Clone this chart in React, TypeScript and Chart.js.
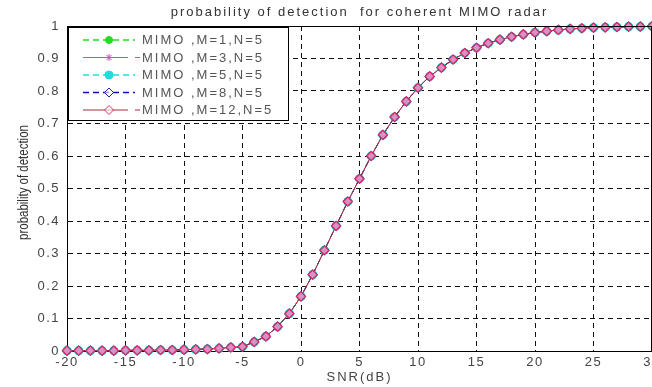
import React, { useEffect, useRef } from "react";
import { Chart, registerables } from "chart.js";

Chart.register(...registerables);

// ---------- data ----------
const snrDb = [
  -20, -19, -18, -17, -16, -15, -14, -13, -12, -11, -10, -9, -8, -7, -6, -5, -4, -3, -2, -1,
  0, 1, 2, 3, 4, 5, 6, 7, 8, 9, 10, 11, 12, 13, 14, 15, 16, 17, 18, 19, 20,
  21, 22, 23, 24, 25, 26, 27, 28, 29, 30,
];

const pdM1 = [
  0.001, 0.001, 0.001, 0.001, 0.001, 0.002, 0.002, 0.002, 0.003, 0.003, 0.004, 0.005, 0.006, 0.008, 0.011, 0.013, 0.028, 0.045, 0.075, 0.115,
  0.168, 0.235, 0.31, 0.385, 0.46, 0.53, 0.6, 0.665, 0.72, 0.768, 0.81, 0.845, 0.872, 0.897, 0.917, 0.933, 0.947, 0.958, 0.967, 0.974, 0.98,
  0.984, 0.988, 0.991, 0.993, 0.995, 0.996, 0.997, 0.998, 0.998, 0.999,
];
const pdM3 = [
  0.001, 0.001, 0.001, 0.001, 0.001, 0.002, 0.002, 0.002, 0.003, 0.003, 0.004, 0.005, 0.006, 0.008, 0.011, 0.013, 0.028, 0.045, 0.075, 0.115,
  0.168, 0.235, 0.31, 0.385, 0.46, 0.53, 0.6, 0.665, 0.72, 0.768, 0.81, 0.845, 0.872, 0.897, 0.917, 0.933, 0.947, 0.958, 0.967, 0.974, 0.98,
  0.984, 0.988, 0.991, 0.993, 0.995, 0.996, 0.997, 0.998, 0.998, 0.999,
];
const pdM5 = [
  0.001, 0.001, 0.001, 0.001, 0.001, 0.002, 0.002, 0.002, 0.003, 0.003, 0.004, 0.005, 0.006, 0.008, 0.011, 0.013, 0.028, 0.045, 0.075, 0.115,
  0.168, 0.235, 0.31, 0.385, 0.46, 0.53, 0.6, 0.665, 0.72, 0.768, 0.81, 0.845, 0.872, 0.897, 0.917, 0.933, 0.947, 0.958, 0.967, 0.974, 0.98,
  0.984, 0.988, 0.991, 0.993, 0.995, 0.996, 0.997, 0.998, 0.998, 0.999,
];
const pdM8 = [
  0.001, 0.001, 0.001, 0.001, 0.001, 0.002, 0.002, 0.002, 0.003, 0.003, 0.004, 0.005, 0.006, 0.008, 0.011, 0.013, 0.028, 0.045, 0.075, 0.115,
  0.168, 0.235, 0.31, 0.385, 0.46, 0.53, 0.6, 0.665, 0.72, 0.768, 0.81, 0.845, 0.872, 0.897, 0.917, 0.933, 0.947, 0.958, 0.967, 0.974, 0.98,
  0.984, 0.988, 0.991, 0.993, 0.995, 0.996, 0.997, 0.998, 0.998, 0.999,
];
const pdM12 = [
  0.001, 0.001, 0.001, 0.001, 0.001, 0.002, 0.002, 0.002, 0.003, 0.003, 0.004, 0.005, 0.006, 0.008, 0.011, 0.013, 0.028, 0.045, 0.075, 0.115,
  0.168, 0.235, 0.31, 0.385, 0.46, 0.53, 0.6, 0.665, 0.72, 0.768, 0.81, 0.845, 0.872, 0.897, 0.917, 0.933, 0.947, 0.958, 0.967, 0.974, 0.98,
  0.984, 0.988, 0.991, 0.993, 0.995, 0.996, 0.997, 0.998, 0.998, 0.999,
];

const seriesLabels = ["MIMO ,M=1,N=5", "MIMO ,M=3,N=5", "MIMO ,M=5,N=5", "MIMO ,M=8,N=5", "MIMO ,M=12,N=5"];
const seriesValues = [pdM1, pdM3, pdM5, pdM8, pdM12];
const yTickLabels = ["0", "0.1", "0.2", "0.3", "0.4", "0.5", "0.6", "0.7", "0.8", "0.9", "1"];
const titleText = "probability of detection  for coherent MIMO radar";
const xTitleText = "SNR(dB)";
const yTitleText = "probability of detection";

// ---------- styles ----------
const lineColors = ["#22dd22", "#cc44cc", "#22dddd", "#1010c0", "#a03030"];
const markerColors = ["#22dd22", "#cc44cc", "#22dddd", "#2020c8", "#d8305e"];
const markerFills = ["#22dd22", "#cc44cc", "#22dddd", "#8a60d0", "#d890c8"];
const legendFills = ["#22dd22", "#cc44cc", "#22dddd", "rgba(255,255,255,0.6)", "rgba(255,255,255,0.6)"];
const dashes: number[][] = [[6, 4], [], [6, 4], [6, 4], []];
const pointStyles = ["circle", "star", "circle", "rectRot", "rectRot"];
const pointRadii = [3.5, 3.5, 4, 4.5, 4.5];

const FONT = "Arial, 'Liberation Sans', sans-serif";
const W = 652;
const H = 387;
const CANVAS_W = 680;
const PLOT_LEFT = 67;
const PLOT_RIGHT = 652;
const PLOT_TOP = 26;
const PLOT_BOTTOM = 351;

function drawMarker(ctx: CanvasRenderingContext2D, style: string, x: number, y: number, r: number, stroke: string, fill: string) {
  ctx.save();
  ctx.strokeStyle = stroke;
  ctx.fillStyle = fill;
  ctx.lineWidth = 1;
  ctx.setLineDash([]);
  ctx.beginPath();
  if (style === "circle") {
    ctx.arc(x, y, r, 0, Math.PI * 2);
    ctx.fill();
    ctx.stroke();
  } else if (style === "rectRot") {
    ctx.moveTo(x, y - r);
    ctx.lineTo(x + r, y);
    ctx.lineTo(x, y + r);
    ctx.lineTo(x - r, y);
    ctx.closePath();
    ctx.fill();
    ctx.stroke();
  } else {
    for (let k = 0; k < 4; k++) {
      const a = (k * Math.PI) / 4;
      ctx.moveTo(x - Math.cos(a) * r, y - Math.sin(a) * r);
      ctx.lineTo(x + Math.cos(a) * r, y + Math.sin(a) * r);
    }
    ctx.stroke();
  }
  ctx.restore();
}

const decorPlugin = {
  id: "matlabDecor",
  beforeDraw(chart: any) {
    (chart.ctx as any).letterSpacing = "1.5px";
  },
  afterDraw(chart: any) {
    const ctx: CanvasRenderingContext2D = chart.ctx;
    const a = chart.chartArea;
    ctx.save();
    // box
    ctx.strokeStyle = "#000";
    ctx.lineWidth = 1;
    ctx.setLineDash([]);
    ctx.beginPath();
    ctx.moveTo(a.left, a.top + 0.5);
    ctx.lineTo(a.right, a.top + 0.5);
    ctx.moveTo(a.right - 0.5, a.top);
    ctx.lineTo(a.right - 0.5, a.bottom);
    ctx.stroke();

    // title
    (ctx as any).letterSpacing = "2px";
    ctx.fillStyle = "#333";
    ctx.font = `13px ${FONT}`;
    ctx.textAlign = "center";
    ctx.textBaseline = "middle";
    ctx.fillText(titleText, (a.left + a.right) / 2, 12);

    // x title
    ctx.fillStyle = "#444";
    ctx.fillText(xTitleText, (a.left + a.right) / 2, 377);

    // y title (condensed)
    (ctx as any).letterSpacing = "0px";
    ctx.save();
    ctx.translate(24, (a.top + a.bottom) / 2 - 6);
    ctx.rotate(-Math.PI / 2);
    ctx.scale(0.82, 1);
    ctx.font = `14px ${FONT}`;
    ctx.fillStyle = "#333";
    ctx.fillText(yTitleText, 0, 0);
    ctx.restore();

    // legend
    const lx = a.left + 1;
    const ly = a.top + 1;
    const lw = 289 - lx;
    const lh = 121 - ly;
    ctx.fillStyle = "#fff";
    ctx.fillRect(lx, ly, lw, lh);
    ctx.strokeStyle = "#000";
    ctx.lineWidth = 1;
    ctx.strokeRect(lx + 0.5, ly + 0.5, lw - 1, lh - 1);

    const rowY = [40, 57.5, 75, 92.5, 110];
    for (let i = 0; i < seriesLabels.length; i++) {
      const y = rowY[i];
      ctx.save();
      ctx.strokeStyle = lineColors[i];
      ctx.lineWidth = dashes[i].length ? 1.6 : 1;
      ctx.setLineDash(dashes[i]);
      ctx.beginPath();
      ctx.moveTo(83, y);
      ctx.lineTo(dashes[i].length ? 135 : 128, y);
      if (!dashes[i].length) {
        ctx.moveTo(135, y);
        ctx.lineTo(140, y);
      }
      ctx.stroke();
      ctx.restore();
      drawMarker(ctx, pointStyles[i], 109, y, pointRadii[i], markerColors[i], legendFills[i]);
      (ctx as any).letterSpacing = "2px";
      ctx.font = `13px ${FONT}`;
      ctx.fillStyle = "#555";
      ctx.textAlign = "left";
      ctx.textBaseline = "middle";
      ctx.fillText(seriesLabels[i], 142, y + 0.5);
    }
    ctx.restore();
    (ctx as any).letterSpacing = "0px";
  },
};

export default function App() {
  const ref = useRef<HTMLCanvasElement | null>(null);

  useEffect(() => {
    document.body.style.margin = "0";
    const canvas = ref.current;
    if (!canvas) return;

    const order = [4, 3, 2, 1, 0];
    const datasets = seriesValues.map((vals, i) => ({
      label: seriesLabels[i],
      data: vals.map((v, j) => ({ x: snrDb[j], y: v })),
      borderColor: lineColors[i],
      borderWidth: 1,
      borderDash: dashes[i],
      pointStyle: pointStyles[i],
      pointRadius: pointRadii[i],
      pointBorderColor: markerColors[i],
      pointBackgroundColor: markerFills[i],
      pointBorderWidth: 1.2,
      fill: false,
      tension: 0,
      clip: false,
      order: order[i],
    }));

    const chart = new Chart(canvas, {
      type: "line",
      data: { datasets },
      plugins: [decorPlugin],
      options: {
        animation: false,
        responsive: false,
        devicePixelRatio: 1,
        layout: {
          padding: { top: PLOT_TOP, right: CANVAS_W - PLOT_RIGHT, bottom: 0, left: 0 },
        },
        plugins: {
          legend: { display: false },
          title: { display: false },
          tooltip: { enabled: false },
        },
        scales: {
          x: {
            type: "linear",
            min: -20,
            max: 30,
            afterFit: (s: any) => {
              s.height = H - PLOT_BOTTOM;
            },
            ticks: {
              stepSize: 5,
              color: "#444",
              font: { size: 13, family: FONT },
              padding: 4,
              maxRotation: 0,
              autoSkip: false,
            },
            grid: { color: "#111", lineWidth: 1, drawTicks: false },
            border: { display: true, color: "#000", width: 1, dash: [5, 4] },
          },
          y: {
            min: 0,
            max: 1,
            afterFit: (s: any) => {
              s.width = PLOT_LEFT;
            },
            ticks: {
              stepSize: 0.1,
              color: "#444",
              font: { size: 13, family: FONT },
              padding: 7,
              callback: (v: any) => yTickLabels[Math.round(Number(v) * 10)] ?? "",
            },
            grid: { color: "#111", lineWidth: 1, drawTicks: false },
            border: { display: true, color: "#000", width: 1, dash: [5, 4] },
          },
        },
      } as any,
    });

    return () => chart.destroy();
  }, []);

  return (
    <div style={{ width: W, height: H, overflow: "hidden", position: "relative", background: "#fff" }}>
      <canvas ref={ref} width={CANVAS_W} height={H} style={{ display: "block", width: CANVAS_W, height: H }} />
    </div>
  );
}
